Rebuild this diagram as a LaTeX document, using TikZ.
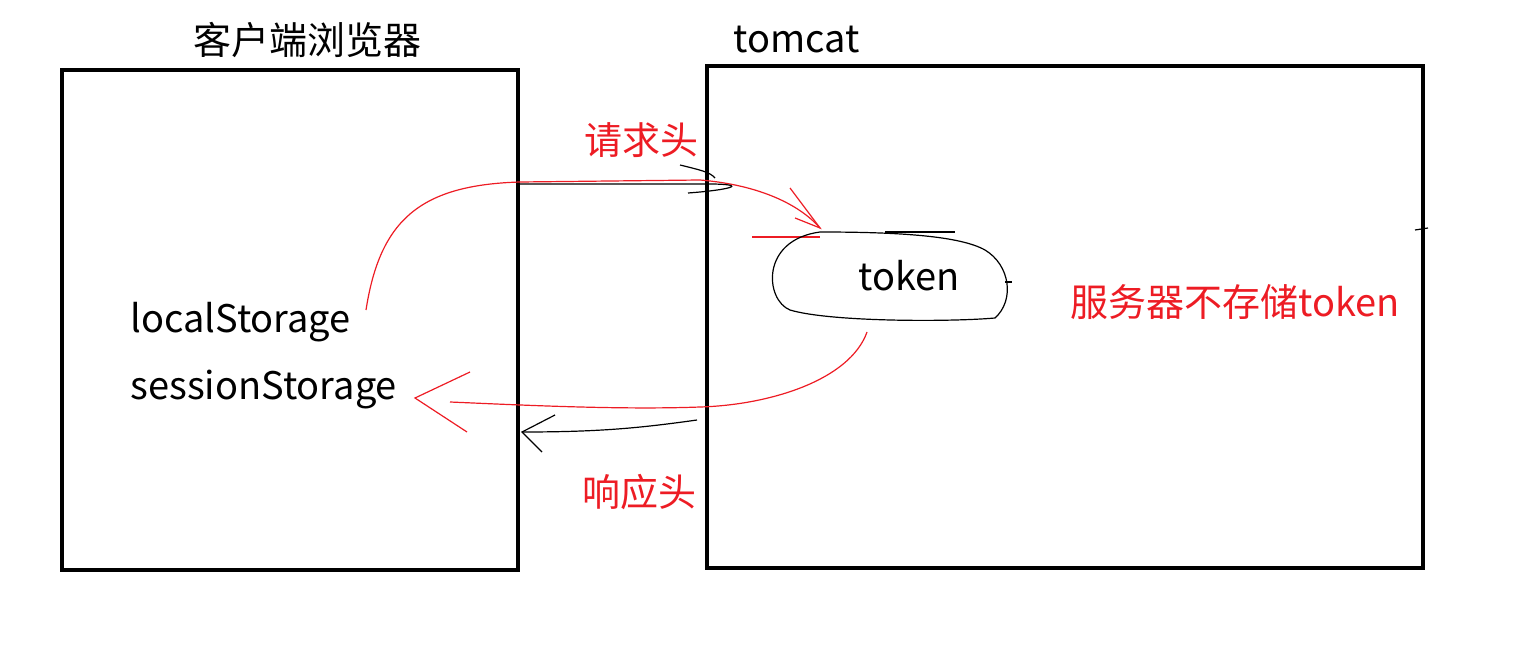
\documentclass[tikz,border=0pt]{standalone}
\usepackage{fontspec}
\setmainfont{Noto Sans CJK SC}
\usetikzlibrary{positioning}
\definecolor{penred}{RGB}{237,28,36}
\tikzset{
  frame/.style={draw,line width=2pt},
  label/.style={font=\fontsize{19}{19}\selectfont,inner sep=0pt},
  redlabel/.style={label,text=penred},
  redpen/.style={penred,line width=0.6pt},
  blackpen/.style={black,line width=0.6pt}
}
\begin{document}
\begin{tikzpicture}[x=0.5pt,y=-0.5pt]
\useasboundingbox (0,0) rectangle (1513,652);
\coordinate (A) at (62,70);
\coordinate (B) at (518,570);
\coordinate (C) at (707,66);
\coordinate (D) at (1423,568);

\draw[frame] (A) rectangle (B);
\draw[frame] (C) rectangle (D);

\node[label] (browser) at (307,40) {客户端浏览器};
\node[label,anchor=west] (tomcat) at (733,40) {tomcat};
\node[label,anchor=west] (local) at (130,322) {localStorage};
\node[label,anchor=west] (session) at (130,390) {sessionStorage};
\node[label] (token) at (909,276) {token};
\node[redlabel] (req) at (641,140) {请求头};
\node[redlabel] (resp) at (639,492) {响应头};
\node[redlabel,anchor=west] (nostore) at (1070,302) {服务器不存储token};

% request curve
\draw[redpen] (366,310) .. controls (380,220) and (420,185) .. (520,182)
  -- (700,180) .. controls (760,185) and (800,205) .. (820,228);
\draw[redpen] (790,188) -- (820,228) -- (795,218);
\draw[redpen] (752,237) -- (820,237);
\draw[blackpen] (520,184) -- (690,184) .. controls (760,183) and (730,190) .. (688,193);
\draw[blackpen] (680,165) .. controls (700,170) and (710,172) .. (715,178);

% token blob
\draw[blackpen] (820,232) .. controls (760,240) and (765,300) .. (790,310)
  .. controls (830,322) and (950,322) .. (995,318)
  .. controls (1015,300) and (1010,265) .. (985,250)
  .. controls (960,236) and (900,232) .. (820,232);
\draw[blackpen] (885,232) -- (955,232);
\draw[blackpen] (1005,282) -- (1012,282);
\draw[blackpen] (1415,230) -- (1428,228);

% response curve
\draw[redpen] (867,332) .. controls (850,380) and (770,405) .. (700,407)
  .. controls (620,410) and (520,405) .. (450,402);
\draw[redpen] (470,372) -- (415,398) -- (467,432);
\draw[blackpen] (697,420) .. controls (640,428) and (600,432) .. (522,432);
\draw[blackpen] (555,415) -- (522,432) -- (542,452);
\end{tikzpicture}
\end{document}
